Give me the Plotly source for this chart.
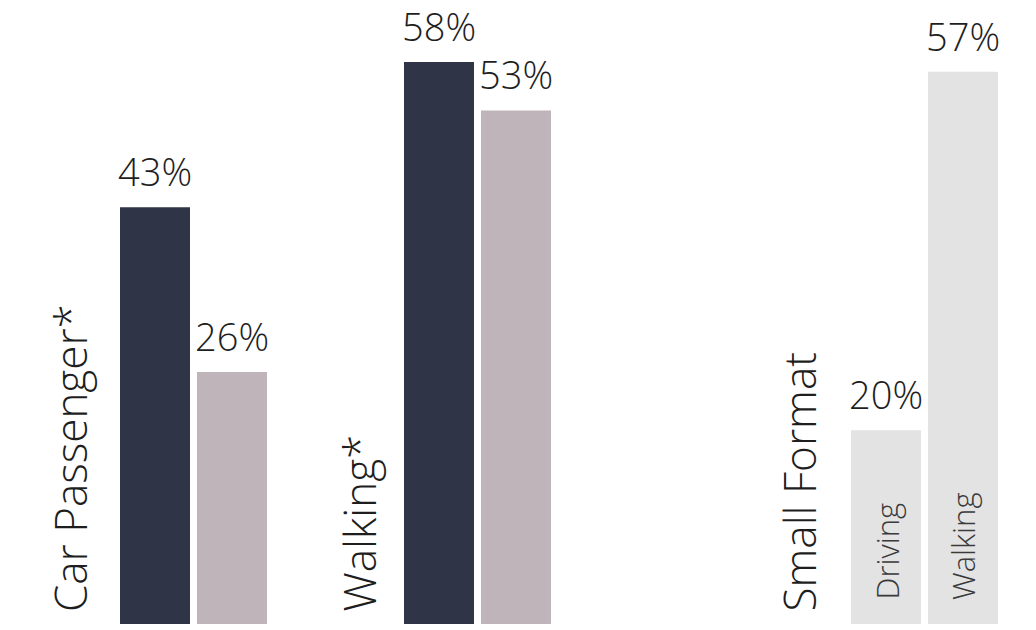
import plotly.graph_objects as go

# ---- data ----
group_labels = ["Car Passenger*", "Walking*", "Small Format"]
car_passenger = [43, 26]
walking = [58, 53]
small_format = [20, 57]
small_format_bar_labels = ["Driving", "Walking"]

# ---- style ----
DARK = "#2f3546"
MAUVE = "#bfb4b9"
GRAY = "#e3e3e3"
TEXT = "#1e1e1e"
FONT = "Segoe UI Light, Open Sans, Lato, sans-serif"
W, H = 1036, 630

panels = [
    (car_passenger, [DARK, MAUVE], None, [116.5, 270.5], 38),
    (walking, [DARK, MAUVE], None, [400.5, 554.5], 326),
    (small_format, [GRAY, GRAY], small_format_bar_labels, [847.5, 1001.5], 766),
]

fig = go.Figure()
annotations = []
for i, (vals, cols, inner, dom, label_x) in enumerate(panels):
    ax = "x" if i == 0 else f"x{i+1}"
    fig.add_trace(go.Bar(
        x=list(range(len(vals))), y=vals, marker_color=cols, marker_line_width=0,
        width=70 / 77, xaxis=ax, yaxis="y", showlegend=False, hoverinfo="skip",
    ))
    for j, v in enumerate(vals):
        annotations.append(dict(
            x=j, y=v, xref=ax, yref="y", text=f"{v}%", showarrow=False,
            yanchor="bottom", xanchor="center", yshift=8,
            font=dict(family=FONT, size=38, color=TEXT, weight=300),
        ))
        if inner:
            annotations.append(dict(
                x=j, y=0, xref=ax, yref="y", text=inner[j], showarrow=False,
                textangle=-90, yanchor="bottom", xanchor="center", yshift=22,
                font=dict(family=FONT, size=31, color="#3a3a3a", weight=300),
            ))
    annotations.append(dict(
        x=label_x / W, y=(624 - 614) / 624, xref="paper", yref="paper",
        text=group_labels[i], showarrow=False, textangle=-90,
        xanchor="left", yanchor="bottom",
        font=dict(family=FONT, size=44, color=TEXT, weight=300),
    ))
    axis_cfg = dict(domain=[dom[0] / W, dom[1] / W], range=[-0.5, 1.5],
                    visible=False, fixedrange=True)
    if i == 0:
        fig.update_layout(xaxis=axis_cfg)
    else:
        axis_cfg["anchor"] = "y"
        fig.update_layout(**{f"xaxis{i+1}": axis_cfg})

fig.update_layout(
    width=W, height=H,
    margin=dict(l=0, r=0, t=0, b=6),
    paper_bgcolor="white", plot_bgcolor="white",
    yaxis=dict(range=[0, 624 / 9.69], visible=False, fixedrange=True),
    annotations=annotations,
    font=dict(family=FONT),
)

fig.write_html("out.html", config={"displayModeBar": False})
